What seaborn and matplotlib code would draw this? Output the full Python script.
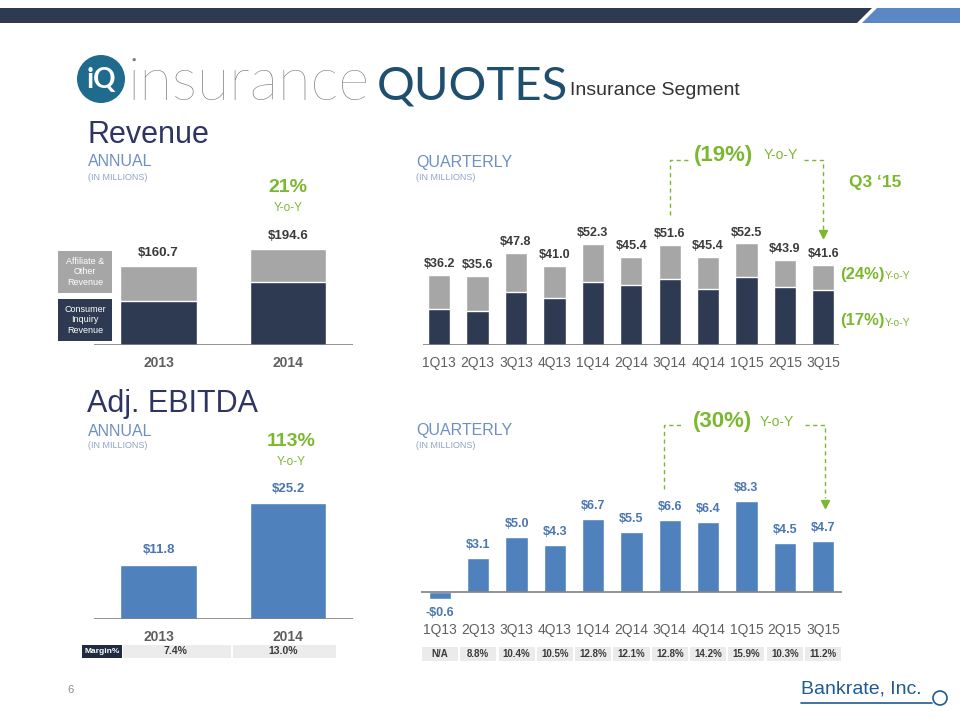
import numpy as np
import pandas as pd
import matplotlib.pyplot as plt
import seaborn as sns
from matplotlib.patches import Rectangle, Polygon, Circle
from matplotlib.transforms import blended_transform_factory

# data
years = ["2013", "2014"]
rev_annual = [160.7, 194.6]
rev_annual_consumer = [90.0, 127.5]

quarters = ["1Q13", "2Q13", "3Q13", "4Q13", "1Q14", "2Q14", "3Q14", "4Q14", "1Q15", "2Q15", "3Q15"]
rev_q = [36.2, 35.6, 47.8, 41.0, 52.3, 45.4, 51.6, 45.4, 52.5, 43.9, 41.6]
rev_q_consumer = [18.6, 17.6, 27.4, 24.3, 32.6, 31.0, 34.1, 29.0, 35.2, 30.0, 28.4]

ebitda_annual = [11.8, 25.2]
margin_annual = ["7.4%", "13.0%"]
ebitda_q = [-0.6, 3.1, 5.0, 4.3, 6.7, 5.5, 6.6, 6.4, 8.3, 4.5, 4.7]
margin_q = ["N/A", "8.8%", "10.4%", "10.5%", "12.8%", "12.1%", "12.8%", "14.2%", "15.9%", "10.3%", "11.2%"]

NAVY = "#2e3a51"
GRAY = "#a6a6a6"
BLUE = "#4f81bd"
GREEN = "#7cb82f"
TITLE = "#2e3561"
SUB = "#6f8fc4"
SUB2 = "#8ea3c9"

sns.set_style("white")
plt.rcParams["font.family"] = ["Liberation Sans", "DejaVu Sans"]

W, H = 960, 720
fig = plt.figure(figsize=(9.6, 7.2), dpi=100)


def px_axes(x0, y0, x1, y1):
    ax = fig.add_axes([x0 / W, 1 - y1 / H, (x1 - x0) / W, (y1 - y0) / H])
    ax.patch.set_alpha(0)
    for s in ax.spines.values():
        s.set_visible(False)
    return ax


def finish(ax, pad, size, bold):
    ax.axhline(0, color="#7f7f7f", lw=1.2, zorder=5)
    ax.set_yticks([])
    ax.set_xlabel("")
    ax.set_ylabel("")
    ax.tick_params(axis="x", length=0, pad=pad, labelsize=size, labelcolor="#5f5f5f")
    if bold:
        for t in ax.get_xticklabels():
            t.set_fontweight("bold")


# ---------- Revenue annual ----------
ax1 = px_axes(93.75, 227, 352.75, 345)
sns.barplot(x=years, y=rev_annual, color=GRAY, saturation=1, width=0.59, errorbar=None, ax=ax1)
sns.barplot(x=years, y=rev_annual_consumer, color=NAVY, saturation=1, width=0.59, errorbar=None, ax=ax1)
ax1.set_xlim(-0.5, 1.5)
ax1.set_ylim(0, 240)
for i, v in enumerate(rev_annual):
    ax1.annotate(f"${v:.1f}", (i, v), xytext=(0, 5), textcoords="offset points",
                 ha="center", va="bottom", fontsize=9.5, fontweight="bold", color="#3a3a3a")
finish(ax1, 8, 10, True)

# ---------- Revenue quarterly ----------
ax2 = px_axes(422.6, 151.6, 838.7, 345)
sns.barplot(x=quarters, y=rev_q, color=GRAY, saturation=1, width=0.58, errorbar=None, ax=ax2)
sns.barplot(x=quarters, y=rev_q_consumer, color=NAVY, saturation=1, width=0.58, errorbar=None, ax=ax2)
ax2.set_xlim(-0.43, 10.4)
ax2.set_ylim(0, 100)
for i, v in enumerate(rev_q):
    ax2.annotate(f"${v:.1f}", (i, v), xytext=(0, 3.5), textcoords="offset points",
                 ha="center", va="bottom", fontsize=9, fontweight="bold", color="#3a3a3a")
finish(ax2, 8, 10, False)
i0, i1 = quarters.index("3Q14"), quarters.index("3Q15")
dash = dict(color=GREEN, lw=1, ls=(0, (3, 2.5)), clip_on=False)
ax2.plot([i0, i0, i0 + 0.47], [67.2, 95.7, 95.7], **dash)
ax2.plot([i1 - 0.5, i1, i1], [95.7, 95.7, 58.5], **dash)
ax2.plot(i1, 57.5, marker="v", ms=6, color=GREEN, clip_on=False)
ax2.text(7.39, 98.2, "(19%)", ha="center", va="center", fontsize=16, fontweight="bold", color=GREEN)
ax2.text(8.9, 98.2, "Y-o-Y", ha="center", va="center", fontsize=10, color=GREEN)

# ---------- EBITDA annual ----------
ax3 = px_axes(93.75, 480.7, 352.75, 619.3)
sns.barplot(x=years, y=ebitda_annual, color=BLUE, saturation=1, width=0.59, errorbar=None, ax=ax3)
ax3.set_xlim(-0.5, 1.5)
ax3.set_ylim(0, 30)
for i, v in enumerate(ebitda_annual):
    ax3.annotate(f"${v:.1f}", (i, v), xytext=(0, 6), textcoords="offset points",
                 ha="center", va="bottom", fontsize=9.5, fontweight="bold", color="#4a76b0")
finish(ax3, 8, 10, True)

# ---------- EBITDA quarterly ----------
ax4 = px_axes(420.8, 410.8, 842.2, 619.8)
sns.barplot(x=quarters, y=ebitda_q, color=BLUE, saturation=1, width=0.58, errorbar=None, ax=ax4)
ax4.set_xlim(-0.5, 10.5)
ax4.set_ylim(-2.5, 16.5)
for i, v in enumerate(ebitda_q):
    if v < 0:
        ax4.annotate(f"-${abs(v):.1f}", (i, v), xytext=(0, -6), textcoords="offset points",
                     ha="center", va="top", fontsize=9, fontweight="bold", color="#4a76b0")
    else:
        ax4.annotate(f"${v:.1f}", (i, v), xytext=(0, 5), textcoords="offset points",
                     ha="center", va="bottom", fontsize=9, fontweight="bold", color="#4a76b0")
finish(ax4, 2, 10, False)
ax4.plot([5.85, 5.85, 6.34], [9.4, 15.2, 15.2], **dash)
ax4.plot([9.53, 10.05, 10.05], [15.2, 15.2, 8.6], **dash)
ax4.plot(10.05, 8.0, marker="v", ms=6, color=GREEN, clip_on=False)
ax4.text(7.38, 15.5, "(30%)", ha="center", va="center", fontsize=16, fontweight="bold", color=GREEN)
ax4.text(8.79, 15.5, "Y-o-Y", ha="center", va="center", fontsize=10, color=GREEN)

# ---------- overlay in pixel coordinates ----------
ov = fig.add_axes([0, 0, 1, 1])
ov.set_xlim(0, W)
ov.set_ylim(H, 0)
ov.axis("off")

# top band
ov.add_patch(Polygon([[0, 8], [872, 8], [857, 23], [0, 23]], closed=True, color="#2d3a52", lw=0))
ov.add_patch(Polygon([[877, 8], [960, 8], [960, 23], [862, 23]], closed=True, color="#5b87c5", lw=0))

# logo
ov.add_patch(Circle((101, 79), 24, color="#1f6b8e", lw=0))
ov.text(101, 80, "iQ", ha="center", va="center", fontsize=20, fontweight="bold", color="white",
        family="Lato")
ov.text(128, 100, "insurance", ha="left", va="baseline", fontsize=43, fontweight="light",
        color="#7a7a7a", family="Lato")
ov.text(377, 100, "QUOTES", ha="left", va="baseline", fontsize=34, color="#1f4f6e", family="Lato")
ov.text(570, 95, "Insurance Segment", ha="left", va="baseline", fontsize=14, color="#333333")

# section headings
for y0, title in [(135, "Revenue"), (404, "Adj. EBITDA")]:
    ov.text(87, y0, title, ha="left", va="center", fontsize=22, color=TITLE)
for x0, y0, lab in [(88, 162, "ANNUAL"), (416, 162, "QUARTERLY"),
                    (88, 431, "ANNUAL"), (416, 431, "QUARTERLY")]:
    ov.text(x0, y0, lab, ha="left", va="center", fontsize=11.5, color=SUB)
    ov.text(x0, y0 + 15, "(IN MILLIONS)", ha="left", va="center", fontsize=6.5, color=SUB2)

# growth callouts
ov.text(288, 187, "21%", ha="center", va="center", fontsize=14, fontweight="bold", color=GREEN)
ov.text(288, 208, "Y-o-Y", ha="center", va="center", fontsize=8.5, color=GREEN)
ov.text(291, 442, "113%", ha="center", va="center", fontsize=14, fontweight="bold", color=GREEN)
ov.text(291, 462, "Y-o-Y", ha="center", va="center", fontsize=8.5, color=GREEN)
ov.text(875, 183, "Q3 \u201815", ha="center", va="center", fontsize=12.5, fontweight="bold", color=GREEN)
for y0, pct in [(274, "(24%)"), (321, "(17%)")]:
    ov.text(840, y0, pct, ha="left", va="center", fontsize=12, fontweight="bold", color=GREEN)
    ov.text(885, y0 + 2, "Y-o-Y", ha="left", va="center", fontsize=7.5, color=GREEN)

# legend boxes
ov.add_patch(Rectangle((58, 251), 54, 42, color=GRAY, lw=0))
ov.text(85, 272, "Affiliate &\nOther\nRevenue", ha="center", va="center", fontsize=6.5,
        color="white", linespacing=1.2)
ov.add_patch(Rectangle((58, 299), 54, 42, color=NAVY, lw=0))
ov.text(85, 320, "Consumer\nInquiry\nRevenue", ha="center", va="center", fontsize=6.5,
        color="white", linespacing=1.2)

# annual margin row
ov.add_patch(Rectangle((82, 645), 40, 13, color="#1f2b40", lw=0))
ov.text(102, 651.5, "Margin%", ha="center", va="center", fontsize=6, fontweight="bold", color="white")
for (x0, x1, xc), m in zip([(123, 231, 175), (233, 336, 283)], margin_annual):
    ov.add_patch(Rectangle((x0, 645), x1 - x0, 13, color="#ececec", lw=0))
    ov.text(xc, 651.5, m, ha="center", va="center", fontsize=7.5, fontweight="bold", color="#3a3a3a")

# quarterly margin row, aligned with the quarterly bars
tr = blended_transform_factory(ax4.transData, ov.transData)
for i, m in enumerate(margin_q):
    ov.add_patch(Rectangle((i - 0.47, 647), 0.94, 14, color="#ebebeb", lw=0, transform=tr))
    ov.text(i, 654, m, ha="center", va="center", fontsize=7, fontweight="bold",
            color="#3a3a3a", transform=tr)

# footer
ov.text(70, 690, "6", ha="center", va="center", fontsize=8, color="#8a8a8a")
ov.text(801, 689, "Bankrate, Inc.", ha="left", va="center", fontsize=14, color="#1f5a96")
ov.plot([801, 932], [703, 703], color="#1f5a96", lw=1.2)
ov.add_patch(Circle((940, 698), 7, fill=False, ec="#1f5a96", lw=1.2))

fig.savefig("out.png", dpi=100)
